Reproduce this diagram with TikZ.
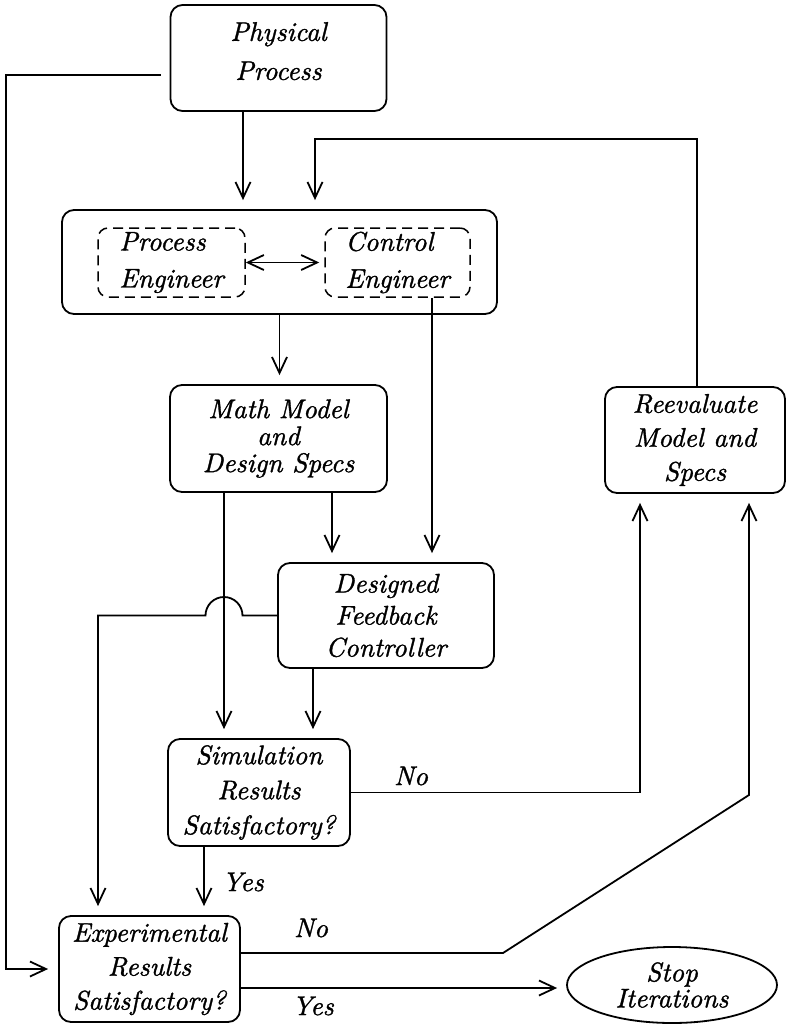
\documentclass[tikz,border=0pt]{standalone}
\usepackage{fontspec}
\newfontfamily\dfont{lmroman10-italic.otf}[FakeBold=1.2]
\usetikzlibrary{arrows.meta,shapes.geometric}

\begin{document}
\begin{tikzpicture}[x=1pt,y=-1pt,
  box/.style={draw, line width=1.8pt, rounded corners=12pt, align=center, inner sep=0pt},
  dbox/.style={draw, line width=1.5pt, dash pattern=on 10pt off 6pt, rounded corners=10pt,
    align=left, inner sep=0pt, font=\fontsize{27}{37}\dfont},
  link/.style={line width=1.8pt},
  tip/.tip={Straight Barb[length=16pt,width=15pt]},
  arr/.style={link, -tip, shorten >=9pt},
  lbl/.style={inner sep=0pt},
  font=\fontsize{27}{33}\dfont]
\useasboundingbox (0,0) rectangle (788,1026);

% boxes
\node[box, minimum width=216pt, minimum height=106pt, font=\fontsize{27}{39}\dfont]
  (phys) at (278.5,58) {Physical\\Process\\[-25pt]};
\node[box, minimum width=435pt, minimum height=104pt] (eng) at (279.5,262) {};
\node[dbox, minimum width=147pt, minimum height=69pt] (pe) at (171.5,262.5) {Process\\Engineer};
\node[dbox, minimum width=145pt, minimum height=69pt] (ce) at (397.5,262.5) {Control\\Engineer};
\node[box, minimum width=217pt, minimum height=107pt, font=\fontsize{27}{27}\dfont]
  (math) at (278.5,438.5) {Math Model\\and\\Design Specs};
\node[box, minimum width=180pt, minimum height=106pt, font=\fontsize{27}{34}\dfont]
  (reev) at (695,440) {Reevaluate\\Model and\\Specs};
\node[box, minimum width=216pt, minimum height=105pt, font=\fontsize{27}{32}\dfont]
  (des) at (386,615.5) {Designed\\Feedback\\Controller};
\node[box, minimum width=182pt, minimum height=107pt, font=\fontsize{27}{35}\dfont]
  (sim) at (259,792.5) {Simulation\\Results\\Satisfactory?};
\node[box, minimum width=181pt, minimum height=106pt, font=\fontsize{27}{34}\dfont]
  (exp) at (149.5,969) {Experimental\\Results\\Satisfactory?};
\node[draw, ellipse, line width=1.8pt, minimum width=210pt, minimum height=76pt, inner sep=0pt,
  align=center, font=\fontsize{27}{26}\dfont] (stop) at (672,985) {Stop\\Iterations};

% branch labels
\node[lbl] (simno) at (411,776) {No};
\node[lbl] (simyes) at (243,882) {Yes};
\node[lbl] (expno) at (311,928) {No};
\node[lbl] (expyes) at (313,1006) {Yes};

% helper points
\coordinate (fb) at (315,139);
\coordinate (hop) at ([xshift=-54.5pt]math.south |- des.west);
\coordinate (dl) at (98,615.5);
\coordinate (k1) at (503,953);
\coordinate (k2) at (749,795);

% connectors
\draw[arr] ([xshift=-9pt,yshift=-17pt]phys.west) -- (6,75) |- ([xshift=-1pt]exp.west);
\draw[arr] ([xshift=-35.5pt]phys.south) -- ([xshift=-35.5pt]phys.south |- eng.north);
\draw[arr] ([xshift=2pt]reev.north) |- (fb) -- (fb |- eng.north);
\draw[link, tip-tip, shorten >=5pt] (pe.east) -- (ce.west);
\draw[arr] (eng.south) -- (eng.south |- math.north);
\draw[arr] ([xshift=34.5pt]ce.south) -- ([xshift=34.5pt]ce.south |- des.north);
\draw[arr] ([xshift=-54.5pt]math.south) -- ([xshift=-54.5pt]math.south |- sim.north);
\draw[arr] ([xshift=53.5pt]math.south) -- ([xshift=53.5pt]math.south |- des.north);
\draw[arr] ([xshift=-73pt]des.south) -- ([xshift=-73pt]des.south |- sim.north);
\draw[arr] (des.west) -- ([xshift=18.5pt]hop) arc[start angle=0, end angle=-180, radius=18.5]
  -- (dl) -- (dl |- exp.north);
\draw[arr] ([xshift=-55pt]sim.south) -- ([xshift=-55pt]sim.south |- exp.north);
\draw[arr] (sim.east) -| ([xshift=-55pt]reev.south);
\draw[arr] ([yshift=16pt]exp.east) -- (k1) -- (k2) -- (k2 |- reev.south);
\draw[arr] ([yshift=-19pt]exp.east) -- ([yshift=-19pt]exp.east -| stop.west);
\end{tikzpicture}
\end{document}
